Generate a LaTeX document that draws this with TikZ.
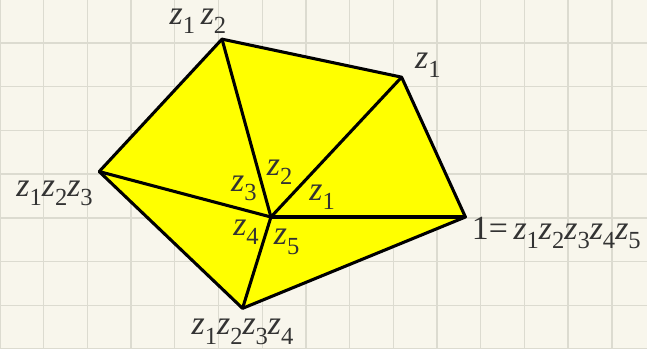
\documentclass[tikz,border=0pt]{standalone}
\usepackage{fontspec}
\setmainfont{Liberation Serif}
\usepackage{tikz}

\definecolor{paper}{HTML}{F8F6EC}
\definecolor{gridgray}{HTML}{DCDBD0}
\definecolor{labelgray}{HTML}{333333}
\definecolor{facefill}{RGB}{255,255,0}

\newcommand{\zi}[1]{\textit{z}\raisebox{-6pt}{\fontsize{16}{18}\selectfont #1}}

\begin{document}
\begin{tikzpicture}[
  edge/.style={line width=2pt, line join=round},
  vlabel/.style={inner sep=0pt, text=labelgray, font=\fontsize{22}{26}\selectfont},
  ilabel/.style={inner sep=0pt, text=black!80, font=\fontsize{22}{26}\selectfont}]
  \fill[paper] (0,0) rectangle (14.805,7.986);
  \useasboundingbox (0,0) rectangle (14.805,7.986);
  \draw[gridgray, line width=0.9pt] (0,0) grid (14.805,7.986);

  \coordinate (A) at (5.08,7.09);
  \coordinate (B) at (9.19,6.22);
  \coordinate (C) at (10.65,3.02);
  \coordinate (D) at (5.55,0.93);
  \coordinate (E) at (2.27,4.06);
  \coordinate (O) at (6.20,3.02);

  \fill[facefill] (A) -- (B) -- (C) -- (D) -- (E) -- cycle;
  \draw[edge] (A) -- (B) -- (C) -- (D) -- (E) -- cycle;
  \draw[edge] (O) -- (A);
  \draw[edge] (O) -- (B);
  \draw[edge] (O) -- (C);
  \draw[edge] (O) -- (D);
  \draw[edge] (O) -- (E);

  % outer labels
  \node[vlabel] (lA) at (4.53,7.50) {\zi{1}\,\zi{2}};
  \node[vlabel] (lB) at (9.79,6.49) {\zi{1}};
  \node[vlabel] (lE) at (1.25,3.57) {\zi{1}\zi{2}\zi{3}};
  \node[vlabel] (lC) at (12.73,2.65) {1=\,\zi{1}\zi{2}\zi{3}\zi{4}\zi{5}};
  \node[vlabel] (lD) at (5.55,0.39) {\zi{1}\zi{2}\zi{3}\zi{4}};

  % inner labels
  \node[ilabel] (l2) at (6.40,4.05) {\zi{2}};
  \node[ilabel] (l3) at (5.58,3.68) {\zi{3}};
  \node[ilabel] (l1) at (7.37,3.48) {\zi{1}};
  \node[ilabel] (l4) at (5.63,2.68) {\zi{4}};
  \node[ilabel] (l5) at (6.56,2.45) {\zi{5}};
\end{tikzpicture}
\end{document}
